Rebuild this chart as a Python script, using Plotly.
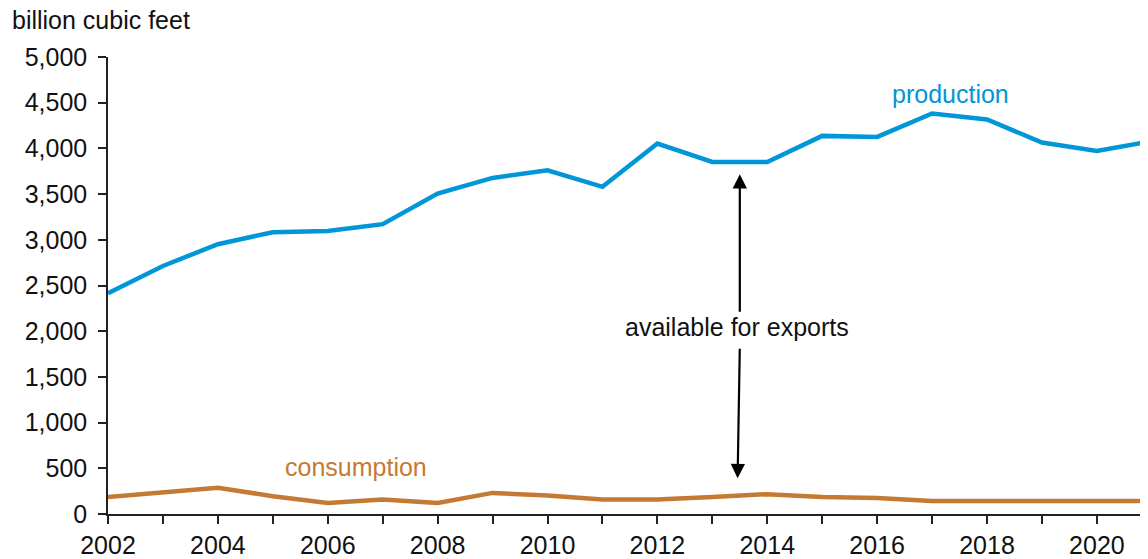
import plotly.graph_objects as go

years = list(range(2002, 2022))
production = [2416, 2714, 2952, 3083, 3097, 3171, 3506, 3677, 3761, 3579,
              4053, 3852, 3852, 4137, 4126, 4382, 4316, 4064, 3972, 4080]
consumption = [187, 235, 286, 195, 121, 159, 121, 231, 202, 159,
               159, 187, 217, 187, 176, 143, 143, 143, 143, 143]

y_ticks = [0, 500, 1000, 1500, 2000, 2500, 3000, 3500, 4000, 4500, 5000]
y_labels = [f"{v:,}" for v in y_ticks]
x_ticks = years
x_labels = [str(y) if y % 2 == 0 else "" for y in years]

BLUE = "#0096D7"
BROWN = "#C47A32"
FONT = "Liberation Sans, Arial, sans-serif"
TXT = "#111111"

fig = go.Figure()
fig.add_trace(go.Scatter(x=years, y=production, mode="lines",
                         line=dict(color=BLUE, width=4.5), showlegend=False,
                         name="production"))
fig.add_trace(go.Scatter(x=years, y=consumption, mode="lines",
                         line=dict(color=BROWN, width=4.5), showlegend=False,
                         name="consumption"))

fig.update_layout(
    width=1140, height=551,
    margin=dict(l=100, r=0, t=49, b=45),
    paper_bgcolor="white", plot_bgcolor="white",
    font=dict(family=FONT, size=25, color=TXT),
    title=dict(text="billion cubic feet", xref="container", yref="container",
               x=0.0035, y=0.978, xanchor="left", yanchor="middle",
               pad=dict(l=0, r=0, t=0, b=0),
               font=dict(size=25, color=TXT, family=FONT)),
    xaxis=dict(range=[2002, 2020.93], tickvals=x_ticks, ticktext=x_labels,
               showgrid=False, zeroline=False, showline=True,
               linecolor="#222222", linewidth=1.5,
               ticks="outside", ticklen=8, tickcolor="#222222", tickwidth=1.5,
               tickfont=dict(size=25, color=TXT), ticklabelstandoff=0),
    yaxis=dict(range=[0, 5000], tickvals=y_ticks, ticktext=y_labels,
               showgrid=False, zeroline=False, showline=True,
               linecolor="#222222", linewidth=1.5,
               ticks="outside", ticklen=8, tickcolor="#222222", tickwidth=1.5,
               tickfont=dict(size=25, color=TXT), ticklabelstandoff=6),
)

fig.add_annotation(text="production", x=2017.33, y=4593, xref="x", yref="y",
                   showarrow=False, font=dict(size=25, color=BLUE))
fig.add_annotation(text="consumption", x=2006.51, y=512, xref="x", yref="y",
                   showarrow=False, font=dict(size=25, color=BROWN))
fig.add_annotation(text="available for exports", x=2013.45, y=2044,
                   xref="x", yref="y", showarrow=False,
                   font=dict(size=25, color=TXT))
# arrows
fig.add_annotation(text="", x=2013.50, y=3718, ax=2013.50, ay=2197,
                   xref="x", yref="y", axref="x", ayref="y",
                   showarrow=True, arrowhead=2, arrowwidth=2.2, arrowsize=1.3,
                   arrowcolor="#000000", standoff=0)
fig.add_annotation(text="", x=2013.46, y=392, ax=2013.50, ay=1825,
                   xref="x", yref="y", axref="x", ayref="y",
                   showarrow=True, arrowhead=2, arrowwidth=2.2, arrowsize=1.3,
                   arrowcolor="#000000", standoff=0)

fig.write_html("out.html")
